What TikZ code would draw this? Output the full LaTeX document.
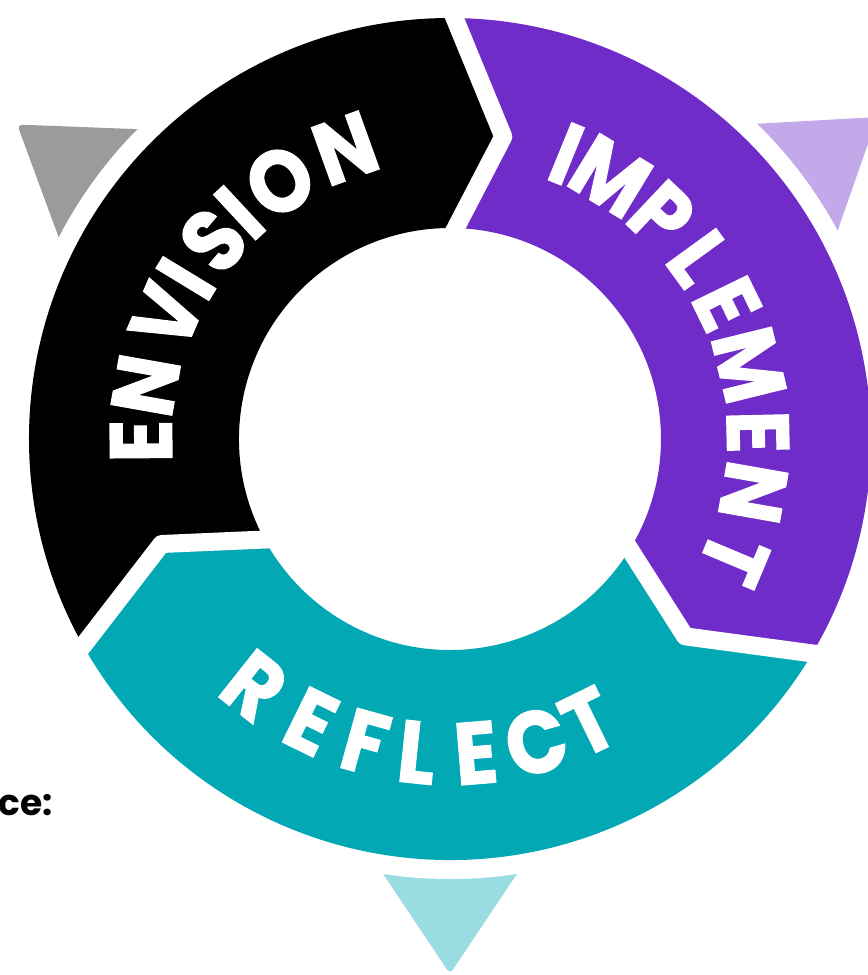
\documentclass[tikz,border=0pt]{standalone}
\usepackage{fontspec}
\usepackage{tikz}
\newfontfamily\ringfont{Poppins}[FakeStretch=0.9, FakeBold=1.5]
\newfontfamily\cutfont{Poppins}
\definecolor{envblack}{HTML}{000000}
\definecolor{implpurple}{HTML}{702CC9}
\definecolor{reflteal}{HTML}{02A9B5}
\definecolor{envtri}{HTML}{9B9B9B}
\definecolor{impltri}{HTML}{C4A9EA}
\definecolor{refltri}{HTML}{99DDE2}

\begin{document}
\begin{tikzpicture}[x=0.02cm,y=0.02cm]
	\tikzset{letter/.style={text=white, inner sep=0pt, font=\ringfont\bfseries\fontsize{50}{60}\selectfont}}
	\tikzset{gap/.style={white, line width=0.36cm, line join=round}}
	\useasboundingbox (-450,-536) rectangle (417,439);
	
	% triangles outside the ring
	\foreach \ang/\col in {144/envtri, 37/impltri, 270/refltri}
	{
		\fill[\col, rounded corners=0.1cm, rotate=\ang] (535,0) -- (402,89) -- (402,-89) -- cycle;
	}
	\fill[white] (0,0) circle (440);
	
	% ring segments
	\fill[envblack] (90:421) arc[start angle=90, end angle=210, radius=421] -- (200:307) -- (210:211) arc[start angle=210, end angle=90, radius=211] -- (80:307) -- cycle;
	\fill[implpurple] (-30:421) arc[start angle=-30, end angle=90, radius=421] -- (80:307) -- (90:211) arc[start angle=90, end angle=-30, radius=211] -- (-40:307) -- cycle;
	\fill[reflteal] (210:421) arc[start angle=210, end angle=330, radius=421] -- (320:307) -- (330:211) arc[start angle=330, end angle=210, radius=211] -- (200:307) -- cycle;
	
	\foreach \b in {90,-30,210}
	{
		\draw[gap] (\b:200) -- (\b-10:307) -- (\b:432); % white chevron gaps
	}
	
	% letters
	\foreach \l/\a [count=\i] in {E/180.4, N/170, V/156.6, I/148.7, S/140, I/132.9, O/123.4, N/109.8}
	{
		\node[letter, rotate=\a-90] (env\i) at (\a:309) {\l};
	}
	\foreach \l/\a [count=\i] in {I/67.8, M/58.6, P/46.6, L/36, E/26, M/13.9, E/1.3, N/-10, T/-22.8}
	{
		\node[letter, rotate=\a-90] (impl\i) at (\a:308) {\l};
	}
	\foreach \l/\a [count=\i] in {R/231.6, E/243.8, F/254.4, L/264, E/274.7, C/285.9, T/296.1}
	{
		\node[letter, rotate=\a+90] (refl\i) at (\a:315) {\l};
	}
	
	\node[anchor=base east, inner sep=0pt, font=\cutfont\bfseries\fontsize{20.5}{24}\selectfont] (cut) at (-397,-376) {ce:};
	
\end{tikzpicture}
\end{document}
